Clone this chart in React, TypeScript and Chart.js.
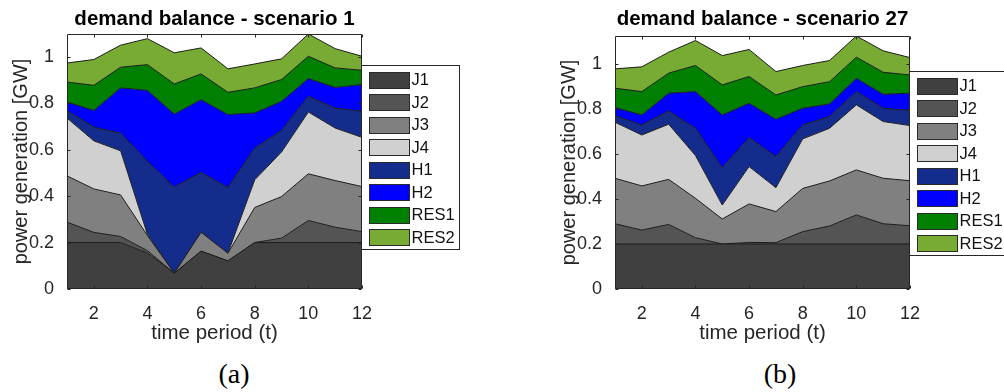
import { useEffect, useRef } from "react";
import { Chart, registerables } from "chart.js";

Chart.register(...registerables);

// Time periods and tick labels
const periods = [1, 2, 3, 4, 5, 6, 7, 8, 9, 10, 11, 12];
const xTickValues = [2, 4, 6, 8, 10, 12];
const yTickValues = [0, 0.2, 0.4, 0.6, 0.8, 1];

// Generation units (stack order, bottom to top) and their fills
const unitNames = ["J1", "J2", "J3", "J4", "H1", "H2", "RES1", "RES2"];
const unitColors = ["#404040", "#545454", "#808080", "#d0d0d0", "#142c8c", "#0000ff", "#007f00", "#78ab34"];

// Scenario 1 generation per unit [GW]
const s1J1 = [0.2, 0.2, 0.2, 0.155, 0.068, 0.163, 0.121, 0.2, 0.2, 0.2, 0.2, 0.2];
const s1J2 = [0.088, 0.044, 0.026, 0.01, 0.0, 0.0, 0.0, 0.0, 0.019, 0.095, 0.066, 0.047];
const s1J3 = [0.199, 0.187, 0.179, 0.065, 0.0, 0.081, 0.033, 0.151, 0.179, 0.201, 0.201, 0.194];
const s1J4 = [0.249, 0.207, 0.19, 0.005, 0.0, 0.0, 0.0, 0.119, 0.192, 0.266, 0.226, 0.212];
const s1H1 = [0.032, 0.059, 0.076, 0.314, 0.371, 0.258, 0.283, 0.137, 0.092, 0.068, 0.086, 0.112];
const s1H2 = [0.037, 0.072, 0.195, 0.306, 0.314, 0.313, 0.314, 0.151, 0.126, 0.076, 0.089, 0.115];
const s1RES1 = [0.086, 0.108, 0.089, 0.111, 0.13, 0.111, 0.096, 0.108, 0.094, 0.096, 0.084, 0.062];
const s1RES2 = [0.082, 0.111, 0.095, 0.112, 0.134, 0.112, 0.101, 0.103, 0.089, 0.096, 0.083, 0.06];

// Scenario 27 generation per unit [GW]
const s27J1 = [0.2, 0.2, 0.2, 0.2, 0.2, 0.2, 0.2, 0.2, 0.2, 0.2, 0.2, 0.2];
const s27J2 = [0.09, 0.062, 0.087, 0.028, 0.0, 0.007, 0.006, 0.055, 0.08, 0.129, 0.09, 0.081];
const s27J3 = [0.202, 0.196, 0.2, 0.175, 0.111, 0.171, 0.138, 0.192, 0.2, 0.2, 0.202, 0.2];
const s27J4 = [0.249, 0.226, 0.245, 0.19, 0.062, 0.166, 0.106, 0.22, 0.234, 0.289, 0.252, 0.245];
const s27H1 = [0.029, 0.045, 0.059, 0.121, 0.166, 0.129, 0.138, 0.062, 0.052, 0.059, 0.059, 0.067];
const s27H2 = [0.036, 0.044, 0.079, 0.163, 0.234, 0.152, 0.166, 0.074, 0.056, 0.059, 0.062, 0.077];
const s27RES1 = [0.086, 0.104, 0.089, 0.116, 0.134, 0.119, 0.108, 0.096, 0.099, 0.094, 0.098, 0.081];
const s27RES2 = [0.086, 0.11, 0.093, 0.111, 0.13, 0.12, 0.104, 0.094, 0.094, 0.094, 0.095, 0.077];

const scenario1 = [s1J1, s1J2, s1J3, s1J4, s1H1, s1H2, s1RES1, s1RES2];
const scenario27 = [s27J1, s27J2, s27J3, s27J4, s27H1, s27H2, s27RES1, s27RES2];

const SANS = "'Liberation Sans', Arial, Helvetica, sans-serif";
const AXIS_COLOR = "#262626";
const EDGE_COLOR = "#1c1c1c";

// Box frame with inward tick marks on all four sides
const axesFrame = {
  id: "axesFrame",
  afterDatasetsDraw(chart: any) {
    const { ctx, chartArea: a, scales } = chart;
    const x = scales.x;
    const y = scales.y;
    const L = Math.round(a.left) + 0.5;
    const R = Math.round(a.right) - 0.5;
    const T = Math.round(a.top) + 0.5;
    const B = Math.round(a.bottom) - 0.5;
    const tl = 3;
    ctx.save();
    ctx.strokeStyle = AXIS_COLOR;
    ctx.lineWidth = 1;
    ctx.beginPath();
    ctx.rect(L, T, R - L, B - T);
    xTickValues.forEach((v) => {
      const px = Math.round(x.getPixelForValue(v)) + 0.5;
      ctx.moveTo(px, B);
      ctx.lineTo(px, B - tl);
      ctx.moveTo(px, T);
      ctx.lineTo(px, T + tl);
    });
    yTickValues.forEach((v) => {
      const py = Math.round(y.getPixelForValue(v)) + 0.5;
      ctx.moveTo(L, py);
      ctx.lineTo(L + tl, py);
      ctx.moveTo(R, py);
      ctx.lineTo(R - tl, py);
    });
    ctx.stroke();
    ctx.restore();
  },
};

// Boxed legend placed against the right edge of the plot area
const boxLegend = {
  id: "boxLegend",
  afterDraw(chart: any, _args: any, opts: any) {
    const { ctx, chartArea: a } = chart;
    const left = Math.round(a.right) - 0.5;
    const top = opts.top + 0.5;
    const width = 98;
    const height = 184;
    const rowGap = 22.5;
    ctx.save();
    ctx.fillStyle = "#ffffff";
    ctx.fillRect(left, top, width, height);
    ctx.strokeStyle = AXIS_COLOR;
    ctx.lineWidth = 1;
    ctx.strokeRect(left, top, width, height);
    ctx.font = `16.5px ${SANS}`;
    ctx.textBaseline = "middle";
    ctx.textAlign = "left";
    chart.data.datasets.forEach((ds: any, i: number) => {
      const cy = top + 14 + i * rowGap;
      const sx = Math.round(left + 7) + 0.5;
      const sy = Math.round(cy - 8) + 0.5;
      ctx.fillStyle = ds.backgroundColor;
      ctx.fillRect(sx, sy, 40, 16);
      ctx.strokeStyle = "#2a2a2a";
      ctx.strokeRect(sx, sy, 40, 16);
      ctx.fillStyle = "#111111";
      ctx.fillText(ds.label, left + 50, cy + 1);
    });
    ctx.restore();
  },
};

type PanelProps = {
  title: string;
  series: number[][];
  left: number;
  width: number;
  legendTop: number;
  titleGap: number;
};

const CANVAS_H = 352;
const PLOT_W = 295;
const Y_AXIS_W = 67;

function AreaPanel({ title, series, left, width, legendTop, titleGap }: PanelProps) {
  const ref = useRef<HTMLCanvasElement>(null);

  useEffect(() => {
    if (!ref.current) return;
    const totals = periods.map((_, i) => series.reduce((s, arr) => s + arr[i], 0));
    const yMax = Math.max(...totals);

    const chart = new Chart(ref.current, {
      type: "line",
      data: {
        datasets: unitNames.map((name, k) => ({
          label: name,
          data: periods.map((t, i) => ({ x: t, y: series[k][i] })),
          backgroundColor: unitColors[k],
          borderColor: EDGE_COLOR,
          borderWidth: 1,
          pointRadius: 0,
          tension: 0,
          fill: k === 0 ? "origin" : "-1",
        })),
      },
      options: {
        animation: false,
        responsive: false,
        maintainAspectRatio: false,
        events: [],
        layout: { padding: { left: 0, top: 0, bottom: 0, right: width - Y_AXIS_W - PLOT_W } },
        scales: {
          x: {
            type: "linear",
            min: 1,
            max: 12,
            afterBuildTicks: (s: any) => {
              s.ticks = xTickValues.map((v) => ({ value: v }));
            },
            afterFit: (s: any) => {
              s.height = CANVAS_H - 289;
            },
            grid: { display: false },
            border: { display: false },
            ticks: {
              padding: 6,
              maxRotation: 0,
              autoSkip: false,
              color: AXIS_COLOR,
              font: { family: SANS, size: 18 },
              callback: (v: any) => String(v),
            },
            title: {
              display: true,
              text: "time period (t)",
              color: AXIS_COLOR,
              font: { family: SANS, size: 20.5 },
              padding: { top: 0, bottom: 6 },
            },
          },
          y: {
            stacked: true,
            min: 0,
            max: yMax,
            afterBuildTicks: (s: any) => {
              s.ticks = yTickValues.map((v) => ({ value: v }));
            },
            afterFit: (s: any) => {
              s.width = Y_AXIS_W;
            },
            grid: { display: false },
            border: { display: false },
            ticks: {
              padding: 5,
              autoSkip: false,
              color: AXIS_COLOR,
              font: { family: SANS, size: 18 },
              callback: (v: any) => String(Number(Number(v).toFixed(1))),
            },
            title: {
              display: true,
              text: "power generation [GW]",
              color: AXIS_COLOR,
              font: { family: SANS, size: 20 },
              padding: { top: 9, bottom: 0 },
            },
          },
        },
        plugins: {
          legend: { display: false },
          tooltip: { enabled: false },
          title: {
            display: true,
            text: title,
            fullSize: false,
            color: "#000000",
            font: { family: SANS, size: 20.5, weight: "bold" },
            padding: { top: 7.3, bottom: titleGap },
          },
          boxLegend: { top: legendTop },
        } as any,
      },
      plugins: [axesFrame, boxLegend],
    } as any);

    return () => chart.destroy();
  }, [title, series, width, legendTop, titleGap]);

  return (
    <canvas
      ref={ref}
      width={width}
      height={CANVAS_H}
      style={{ position: "absolute", left, top: 0, width, height: CANVAS_H, display: "block" }}
    />
  );
}

const captionStyle = (cx: number): React.CSSProperties => ({
  position: "absolute",
  left: cx - 40,
  width: 80,
  top: 358,
  textAlign: "center",
  fontFamily: "'Liberation Serif', 'DejaVu Serif', serif",
  fontSize: 28,
  lineHeight: "32px",
  color: "#000",
});

export default function App() {
  return (
    <div
      style={{
        position: "fixed",
        left: 0,
        top: 0,
        width: 1004,
        height: 392,
        background: "#ffffff",
        overflow: "hidden",
      }}
    >
      <AreaPanel
        title="demand balance - scenario 1"
        series={scenario1}
        left={0}
        width={480}
        legendTop={65}
        titleGap={2.1}
      />
      <AreaPanel
        title="demand balance - scenario 27"
        series={scenario27}
        left={548}
        width={456}
        legendTop={71}
        titleGap={4.1}
      />
      <div style={captionStyle(234)}>(a)</div>
      <div style={captionStyle(780)}>(b)</div>
    </div>
  );
}
